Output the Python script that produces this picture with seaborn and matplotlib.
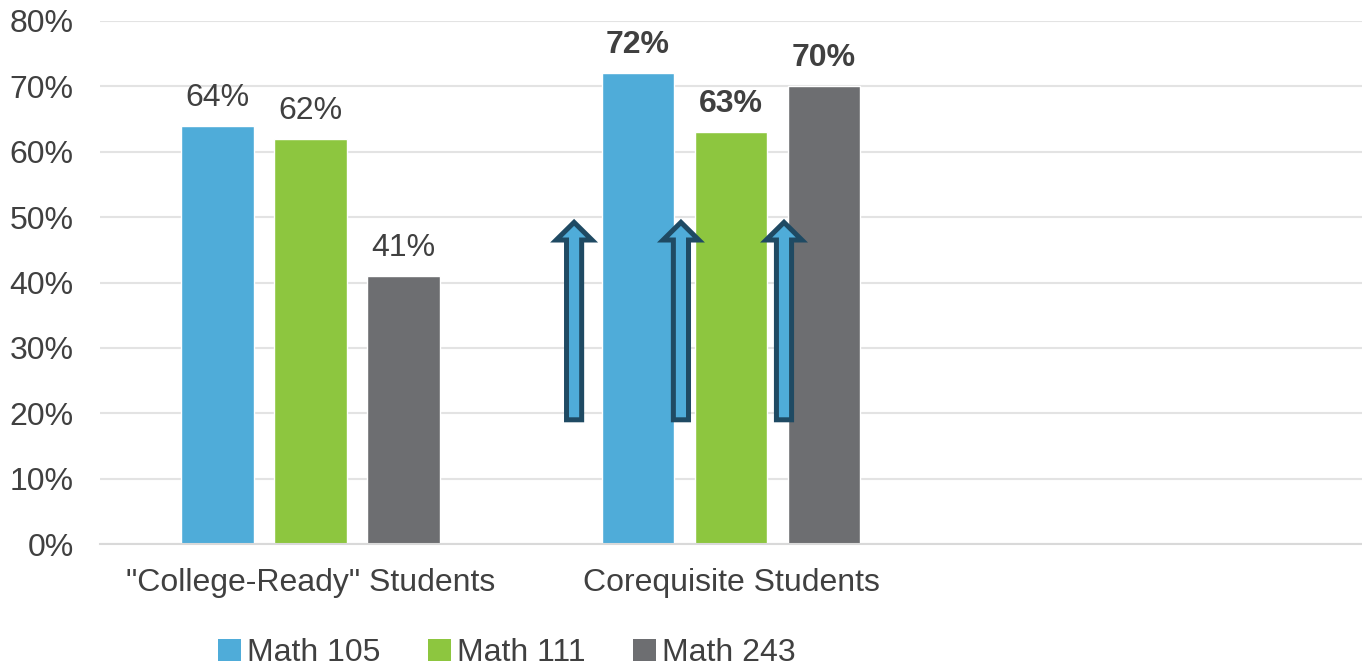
import matplotlib
matplotlib.use("Agg")
import matplotlib.pyplot as plt
import seaborn as sns
import pandas as pd
from matplotlib.patches import FancyArrow, Patch

groups = ['"College-Ready" Students', "Corequisite Students"]
courses = ["Math 105", "Math 111", "Math 243"]
college_ready = [64, 62, 41]
corequisite = [72, 63, 70]
yticks = [0, 10, 20, 30, 40, 50, 60, 70, 80]
colors = ["#4FACD9", "#8DC63F", "#6D6E71"]

rows = []
for c, v in zip(courses, college_ready):
    rows.append({"group": groups[0], "course": c, "value": v})
for c, v in zip(courses, corequisite):
    rows.append({"group": groups[1], "course": c, "value": v})
df = pd.DataFrame(rows)

sns.set_theme(style="white")
plt.rcParams["font.family"] = ["Liberation Sans", "DejaVu Sans"]
txt = "#404040"
fs = 23

fig = plt.figure(figsize=(13.62, 6.70), dpi=100)
ax = fig.add_axes([100/1362, 1-544/670, 1-100/1362, (544-21)/670])

sns.barplot(data=df, x="group", y="value", hue="course", order=groups,
            hue_order=courses, palette=colors, width=0.663, gap=0.22,
            saturation=1, ax=ax, legend=False, errorbar=None)

ax.set_xlim(-0.5, 2.5)
ax.set_ylim(0, 80)
ax.set_yticks(yticks)
ax.set_yticklabels([f"{t}%" for t in yticks], fontsize=fs, color=txt)
ax.tick_params(axis="x", labelsize=fs, labelcolor=txt, pad=17, length=0)
ax.tick_params(axis="y", length=0, pad=19)
ax.set_xlabel("")
ax.set_ylabel("")
for s in ["top", "right", "left"]:
    ax.spines[s].set_visible(False)
ax.spines["bottom"].set_color("#D9D9D9")
ax.spines["bottom"].set_linewidth(1.5)
ax.yaxis.grid(True, color="#E3E3E3", linewidth=1.5)
ax.set_axisbelow(True)

# data labels
for i, cont in enumerate(ax.containers):
    for j, bar in enumerate(cont):
        h = bar.get_height()
        bold = (j == 1)
        ax.text(bar.get_x() + bar.get_width()/2, h + 2.0, f"{h:.0f}%",
                ha="center", va="bottom", fontsize=fs, color=txt,
                fontweight="bold" if bold else "normal")

# up arrows
arrow_x = [0.627, 0.881, 1.126]
for x in arrow_x:
    arr = FancyArrow(x, 19.0, 0, 30.2, width=0.036, head_width=0.085,
                     head_length=2.7, length_includes_head=True,
                     fc="#4FACD9", ec="#1F4A63", lw=3.6, zorder=4)
    ax.add_patch(arr)

handles = [Patch(facecolor=c, edgecolor="none") for c in colors]
fig.legend(handles, courses, loc="center", bbox_to_anchor=(507/1362, 1-653/670),
           ncol=3, frameon=False, fontsize=fs, handlelength=0.7,
           handleheight=0.7, handletextpad=0.2, columnspacing=1.5,
           labelcolor=txt, borderpad=0.1)

fig.savefig("out.png", dpi=100)
